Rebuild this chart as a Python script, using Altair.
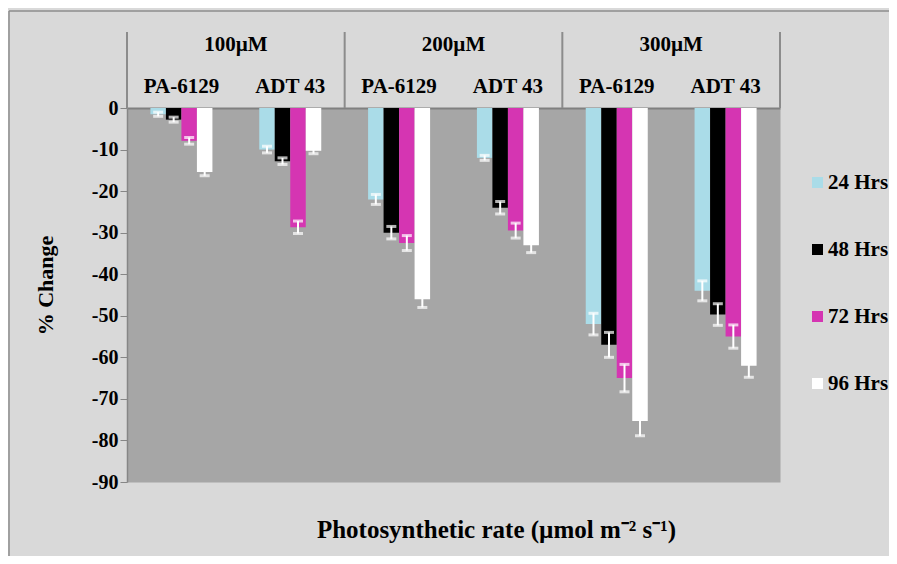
import altair as alt
import pandas as pd

# ---- data ----
conc = ["100µM", "200µM", "300µM"]
strains = ["PA-6129", "ADT 43"]
series = ["24 Hrs", "48 Hrs", "72 Hrs", "96 Hrs"]
colors = ["#AADCE8", "#000000", "#D535B2", "#FFFFFF"]

v24 = [-1.5, -10.0, -22.0, -12.0, -52.0, -44.0]
v48 = [-2.8, -12.8, -30.0, -24.0, -57.0, -49.7]
v72 = [-7.9, -28.7, -32.5, -29.5, -65.0, -55.0]
v96 = [-15.4, -10.3, -46.0, -33.0, -75.3, -62.0]

e24 = [0.5, 0.8, 1.2, 0.6, 2.6, 2.4]
e48 = [0.6, 0.8, 1.5, 1.5, 3.0, 2.6]
e72 = [0.8, 1.5, 1.8, 1.8, 3.3, 2.8]
e96 = [0.9, 0.7, 2.0, 1.8, 3.6, 2.8]

x_title = "Photosynthetic rate (µmol m⁻² s⁻¹)"
y_title = "% Change"

groups = [f"{c}|{s}" for c in conc for s in strains]
vals = [v24, v48, v72, v96]
errs = [e24, e48, e72, e96]

rows = []
for si, s in enumerate(series):
    for gi, g in enumerate(groups):
        v = vals[si][gi]
        e = errs[si][gi]
        rows.append({"grp": g, "series": s, "value": v, "lo": v - e, "hi": v + e})
df = pd.DataFrame(rows)

hdr = pd.DataFrame({"grp": [groups[0], groups[2], groups[4]], "conc": conc})
sep_a = pd.DataFrame({"grp": [groups[0], groups[2], groups[4]]})
sep_b = pd.DataFrame({"grp": [groups[5]]})

FONT = "Liberation Serif"
W, H = 653, 374

xscale = alt.Scale(domain=groups, paddingInner=0, paddingOuter=0)
xaxis = alt.Axis(orient="top", labelExpr="split(datum.label,'|')[1]", ticks=False,
                 domainColor="#808080", domainWidth=2, labelFont=FONT, labelFontSize=21,
                 labelFontWeight="bold", labelColor="black", labelPadding=12, labelAngle=0,
                 title=None)
x_enc = alt.X("grp:N", scale=xscale, axis=xaxis)
# empty slots on either side of the four bars (gap between clusters)
xo_domain = ["_l"] + series + ["_r"]
xo_enc = alt.XOffset("series:N", scale=alt.Scale(domain=xo_domain, paddingOuter=0.51, paddingInner=0))

yscale = alt.Scale(domain=[-90, 0], nice=False, zero=False)
yaxis = alt.Axis(values=list(range(-90, 1, 10)), labelExpr="'' + datum.value",
                 labelFont=FONT, labelFontSize=20,
                 labelFontWeight="bold", labelColor="black", tickColor="#868686", tickSize=7,
                 domainColor="#868686", domainWidth=1.5, grid=False, title=y_title,
                 titleFont=FONT, titleFontSize=22, titleFontWeight="bold", titleColor="black",
                 titlePadding=34, titleY=177, labelPadding=2)

bars = alt.Chart(df).mark_bar().encode(
    x=x_enc, xOffset=xo_enc,
    y=alt.Y("value:Q", scale=yscale, axis=yaxis),
    color=alt.Color("series:N", scale=alt.Scale(domain=series, range=colors),
                    legend=alt.Legend(title=None, orient="none", legendX=680, legendY=64,
                                      labelFont=FONT, labelFontSize=21, labelFontWeight="bold",
                                      labelColor="black", symbolType="square", symbolSize=121,
                                      symbolStrokeWidth=0, rowPadding=45, labelOffset=0,
                                      padding=0)),
)

err_rule = alt.Chart(df).mark_rule(color="white", strokeWidth=2).encode(
    x=x_enc, xOffset=xo_enc, y=alt.Y("lo:Q", scale=yscale), y2="hi:Q")
cap_lo = alt.Chart(df).mark_tick(color="white", thickness=3, size=10, orient="horizontal").encode(
    x=x_enc, xOffset=xo_enc, y=alt.Y("lo:Q", scale=yscale))
cap_hi = alt.Chart(df).mark_tick(color="white", thickness=3, size=10, orient="horizontal").encode(
    x=x_enc, xOffset=xo_enc, y=alt.Y("hi:Q", scale=yscale))

hdr_text = alt.Chart(hdr).mark_text(font=FONT, fontSize=21, fontWeight="bold", color="black",
                                    baseline="middle").encode(
    x=alt.X("grp:N", bandPosition=1, scale=xscale, axis=xaxis),
    y=alt.value(-63), text="conc:N")

sep1 = alt.Chart(sep_a).mark_rule(color="#8C8C8C", strokeWidth=2).encode(
    x=alt.X("grp:N", bandPosition=0, scale=xscale, axis=xaxis),
    y=alt.value(-76), y2=alt.value(0))
sep2 = alt.Chart(sep_b).mark_rule(color="#8C8C8C", strokeWidth=2).encode(
    x=alt.X("grp:N", bandPosition=1, scale=xscale, axis=xaxis),
    y=alt.value(-76), y2=alt.value(0))

one = alt.Data(values=[{"t": x_title}])
frame_l = alt.Chart(one).mark_rule(color="#8C8C8C", strokeWidth=1.5).encode(
    x=alt.value(-118), y=alt.value(-97), y2=alt.value(H + 80))
frame_t = alt.Chart(one).mark_rule(color="#8C8C8C", strokeWidth=1.5).encode(
    x=alt.value(-118), x2=alt.value(W + 120), y=alt.value(-97))
xt = alt.Chart(one).mark_text(font=FONT, fontSize=25, fontWeight="bold", color="black",
                              baseline="middle", align="center").encode(
    x=alt.value(W / 2 + 43), y=alt.value(H + 48), text="t:N")

chart = alt.layer(frame_l, frame_t, sep1, sep2, bars, err_rule, cap_lo, cap_hi, hdr_text, xt).properties(
    width=W, height=H,
    padding={"left": 119, "top": 100, "right": 109, "bottom": 74},
    autosize=alt.AutoSizeParams(type="none"),
    background="#D9D9D9",
).configure_view(fill="#A6A6A6", stroke="transparent")

chart.save("out.html", embed_options={"renderer": "svg", "actions": False})
